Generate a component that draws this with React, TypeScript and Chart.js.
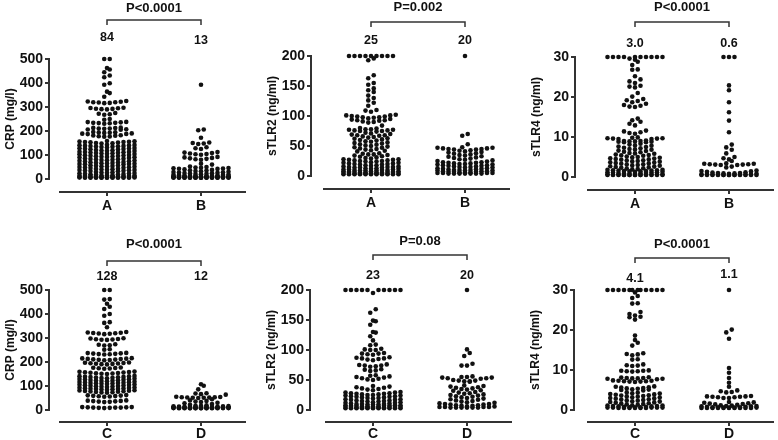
import React, { useEffect, useRef } from 'react';
import { Chart, registerables } from 'chart.js';
Chart.register(...registerables);

Chart.defaults.font.family = '"Liberation Sans", Arial, sans-serif';
Chart.defaults.font.weight = 'bold';
Chart.defaults.font.size = 14;
Chart.defaults.color = '#111';

// ---------- data ----------
const crpA = [
  500, 500, 462, 456, 445, 431, 424, 399, 393, 364, 358, 343,
  325, 323, 322, 320, 320, 319, 317, 316,
  297, 296, 295, 293, 292, 291, 290,
  275, 272, 270, 268,
  250, 247,
  238, 237, 236, 234, 234, 233, 232, 230,
  214, 213, 212, 210, 210, 209, 207, 206, 205,
  196, 195, 194, 193, 192, 190, 189, 188, 187,
  182, 181, 180, 178, 177, 176,
  158, 157, 156, 155, 154, 154, 153, 152, 150, 149, 148,
  143, 142, 141, 140, 139, 138, 137, 136, 135, 134, 133, 131,
  129, 128, 127, 126, 125, 124, 123, 121, 120, 119, 118, 117,
  114, 113, 112, 111, 110, 109, 108, 107, 106, 105, 104, 103,
  100, 99, 98, 97, 96, 95, 94, 93, 92, 91, 90, 88,
  85, 84, 83, 82, 81, 80, 79, 78, 77, 76, 74, 73,
  71, 70, 69, 68, 67, 66, 65, 64, 63, 62, 61, 60,
  57, 56, 55, 54, 53, 52, 51, 50, 49, 48, 47, 46,
  43, 42, 41, 40, 39, 38, 37, 36, 35, 34, 33, 32,
  29, 28, 27, 26, 25, 24, 23, 22, 21, 20, 19, 18,
  16, 15, 15, 14, 14, 13, 13, 12, 12, 11, 11, 10,
  9, 9, 9, 8, 8, 8, 8, 7, 7, 7, 7, 6,
  6, 6, 6, 5, 5, 5, 5, 5, 5, 5, 5, 5,
];
const crpB = [
  393, 206, 203, 172, 152, 150, 148, 146, 132, 128, 125,
  112, 110, 108, 106, 104, 103, 101,
  92, 90, 88, 86, 84, 82, 80,
  64, 60,
  52, 50, 48, 47, 46, 45, 44, 43, 42,
  40, 38, 36, 35, 33, 32, 30, 29, 28, 27, 26, 25,
  24, 23, 22, 21, 20, 19, 18, 17, 16, 15, 14, 13,
  12, 12, 12, 11, 11, 11, 11, 10, 10, 10, 10, 10,
  9, 9, 9, 9, 9, 9, 8, 8, 8, 8, 8, 8,
  7, 7, 7, 7, 7, 7, 6, 6, 6, 6, 6, 6,
  5, 5, 5, 5, 5, 5, 5, 5, 5, 5, 5, 5,
];
const stlr2A = [
  200, 200, 200, 200, 200, 200, 200, 200, 200, 196, 193,
  168, 163, 155, 152, 146, 143, 140, 134, 130, 126, 122, 117, 110, 109, 107,
  102, 101, 101, 100, 99, 99, 98, 98, 97, 96,
  95, 94, 93, 93, 92, 91, 90, 89,
  84, 80,
  79, 78, 78, 77, 77, 76, 76, 75, 75, 74,
  72, 71, 70, 69, 68, 68, 67, 66, 65, 64, 63,
  62, 61, 60, 59, 58, 57, 56, 55, 54, 53, 52,
  51, 50, 49, 48, 47, 46, 45, 44, 43, 42, 41,
  38, 37, 36, 36, 35, 34, 33, 32, 31, 30, 29,
  28, 28, 27, 27, 26, 26, 25, 25, 24, 24, 23,
  22, 22, 21, 21, 20, 20, 19, 19, 18, 18, 17,
  16, 16, 15, 15, 15, 14, 14, 14, 13, 13, 12,
  12, 11, 11, 11, 10, 10, 10, 9, 9, 9, 8,
  8, 8, 7, 7, 7, 7, 6, 6, 6, 6, 5,
  5, 5, 5, 5, 4, 4, 4, 4, 4, 4, 4,
  3, 3, 3, 3, 3, 3, 3, 3, 3, 3, 3,
];
const stlr2B = [
  200, 70, 67, 53,
  48, 47, 47, 46, 46, 45, 45, 44, 44,
  43, 42, 41, 40, 39, 38, 37, 36, 35,
  34, 33, 32, 31, 30, 29, 28, 27, 26,
  25, 24, 23, 23, 22, 22, 21, 21, 20,
  20, 19, 19, 18, 18, 17, 17, 16, 16,
  15, 15, 14, 14, 13, 13, 12, 12, 11,
  11, 10, 10, 10, 9, 9, 9, 8, 8,
  8, 7, 7, 7, 6, 6, 6, 5, 5,
  5, 5, 4, 4, 4, 4, 4, 4, 4,
];
const stlr4A = [
  30, 30, 30, 30, 30, 30, 30, 30, 30, 30, 29.6, 29.3,
  28.8, 28.0, 26.9, 26.8,
  25.2, 24.4, 23.9, 23.5, 22.8, 22.6, 22.4, 21.0,
  20.1, 19.5, 19.2, 19.0, 18.7, 18.3, 18.0, 17.8, 17.6, 17.5,
  14.6, 14.2, 13.8, 13.3, 12.9,
  11.6, 11.4, 11.2, 11.0, 10.8,
  9.9, 9.8, 9.7, 9.7, 9.6, 9.6, 9.5, 9.5,
  9.1, 9.0, 9.0, 8.9, 8.9, 8.8, 8.8, 8.7, 8.7,
  8.3, 8.1, 7.9, 7.8, 7.6, 7.5, 7.3, 7.2, 7.0, 6.9, 6.8,
  6.6, 6.5, 6.3, 6.2, 6.0, 5.9, 5.8, 5.6, 5.5, 5.4, 5.3,
  5.1, 5.0, 4.9, 4.8, 4.7, 4.6, 4.5, 4.4, 4.3, 4.2, 4.1,
  4.0, 3.9, 3.8, 3.7, 3.6, 3.5, 3.4, 3.3, 3.2, 3.1, 3.0,
  2.9, 2.8, 2.7, 2.6, 2.5, 2.4, 2.3, 2.2, 2.1, 2.0, 1.9,
  1.8, 1.8, 1.7, 1.7, 1.6, 1.6, 1.5, 1.5, 1.4, 1.4, 1.3,
  1.3, 1.2, 1.2, 1.1, 1.1, 1.0, 1.0, 0.9, 0.9, 0.8, 0.8,
  0.7, 0.7, 0.7, 0.6, 0.6, 0.6, 0.6, 0.5, 0.5, 0.5, 0.5,
  0.5, 0.5, 0.5, 0.5, 0.5, 0.5, 0.5, 0.5, 0.5, 0.5, 0.5,
];
const stlr4B = [
  30, 30, 30, 22.9, 21.7, 18.7, 16.2, 14.1, 11.2, 8.1, 7.4, 6.8, 5.9,
  5.0, 4.7, 4.4, 4.0,
  3.4, 3.3, 3.3, 3.2, 3.2, 3.1, 3.1, 3.0, 3.0,
  2.6, 2.4,
  1.6, 1.5, 1.4, 1.3, 1.2, 1.1, 1.0, 1.0, 0.9, 0.9, 0.8,
  0.8, 0.7, 0.7, 0.7, 0.6, 0.6, 0.6, 0.6, 0.5, 0.5, 0.5,
  0.5, 0.5, 0.5, 0.5, 0.5, 0.5, 0.5, 0.5, 0.5, 0.5, 0.5,
];
const crpC = [
  500, 500, 462, 460, 443, 430, 421, 400, 393, 366, 363, 345,
  325, 323, 322, 321, 320, 319, 318, 316,
  299, 298, 296, 295, 294, 293, 292,
  274, 272, 270, 269,
  253, 251,
  238, 237, 236, 235, 234, 233, 232, 231,
  216, 215, 214, 213, 212, 211, 210, 209, 208, 207,
  198, 197, 196, 195, 194, 193, 192, 191, 190,
  177, 176, 175, 174, 173, 172,
  160, 159, 158, 157, 156, 155, 154, 153, 152, 151, 150,
  142, 141, 140, 139, 138, 137, 136, 135, 134, 133, 132,
  130, 129, 128, 127, 126, 125, 124, 123, 122, 121, 120,
  118, 117, 116, 115, 114, 113, 112, 111, 110, 109, 108,
  106, 105, 104, 103, 102, 101, 100, 99, 98, 97, 96,
  94, 93, 92, 91, 90, 89, 88, 87, 86, 85, 84,
  82, 81, 80, 79, 78, 77, 76, 75, 74, 73, 72,
  62, 61, 60, 59, 58, 57, 56, 55,
  40, 39, 38, 37, 36, 35, 34, 33,
  12, 12, 11, 11, 10, 10, 10, 9, 9, 8,
];
const crpD = [
  107, 101, 86, 70, 69, 66, 64,
  55, 54, 53, 53, 52, 52, 51, 51, 50,
  45, 40, 38, 35, 33, 30, 28, 25, 22, 20, 18, 17,
  16, 15, 15, 14, 14, 13, 13, 12, 12, 12, 12,
  11, 11, 11, 11, 10, 10, 10, 10, 10, 10, 10,
  9, 9, 9, 9, 9, 9, 9, 8, 8, 8, 8,
  8, 8, 8, 7, 7, 7, 7, 7, 7, 7, 7,
];
const stlr2C = [
  200, 200, 200, 200, 200, 200, 200, 200, 200, 200, 195,
  168, 162, 149, 148, 142, 130, 129, 123, 116, 109, 108,
  102, 101, 100, 100,
  95, 94, 94, 93, 92,
  88, 87, 86, 86, 85, 84, 83,
  76, 75, 74, 74, 73, 72,
  68, 67, 66, 65,
  58, 57, 56, 55, 54, 53, 52, 51, 50,
  40, 39, 38, 37, 36, 35, 34, 33,
  30, 29, 29, 28, 28, 27, 27, 26, 26, 25, 25,
  24, 24, 23, 23, 22, 22, 21, 21, 20, 20, 19,
  18, 18, 17, 17, 16, 16, 15, 15, 14, 14, 13,
  13, 12, 12, 11, 11, 10, 10, 10, 9, 9, 9,
  8, 8, 8, 7, 7, 7, 7, 6, 6, 6, 6,
  5, 5, 5, 5, 5, 4, 4, 4, 4, 4, 4,
  3, 3, 3, 3, 3, 3, 3, 3, 3, 3, 3,
];
const stlr2D = [
  200, 101, 95, 90, 77, 74, 74,
  56, 55, 55, 54, 54, 53, 53, 52,
  50, 49, 49, 48, 48, 47,
  41, 40, 39, 38, 37, 36, 35, 34, 33, 32,
  30, 29, 28, 27, 26, 25, 24, 23, 22, 21,
  20, 19, 18, 17, 16, 15, 14, 13, 12, 11,
  10, 10, 9, 9, 8, 8, 7, 7, 6, 6,
  5, 5, 5, 5, 4, 4, 4, 4, 4, 4,
];
const stlr4C = [
  30, 30, 30, 30, 30, 30, 30, 30, 30, 30, 30, 30, 29.4, 28.5, 28.0,
  26.7, 26.6,
  24.5, 24.0, 23.6, 23.3, 23.2, 22.6,
  18.6, 17.5, 16.8, 16.1,
  14.2, 14.0, 13.9, 13.7,
  12.7, 12.6,
  11.4, 11.2, 11.1, 11.0,
  9.9, 9.8, 9.8, 9.7, 9.7, 9.6,
  8.2, 8.1, 8.0, 8.0, 7.9, 7.9, 7.8, 7.8, 7.7,
  7.4, 7.3, 7.3, 7.2, 7.2, 7.1, 7.1, 7.0,
  5.9, 5.8, 5.7, 5.6, 5.5, 5.4, 5.3, 5.2, 5.1, 5.0, 4.9,
  4.4, 4.3, 4.2, 4.1, 4.0, 3.9, 3.8, 3.7, 3.6, 3.5, 3.4,
  3.3, 3.2, 3.1, 3.0, 2.9, 2.8, 2.7, 2.6, 2.5, 2.4, 2.3,
  2.2, 2.1, 2.0, 1.9, 1.8, 1.7, 1.6, 1.5, 1.4, 1.3, 1.2,
  1.1, 1.1, 1.0, 1.0, 0.9, 0.9, 0.8, 0.8, 0.7, 0.7, 0.7,
  0.6, 0.6, 0.6, 0.6, 0.6, 0.5, 0.5, 0.5, 0.5, 0.5, 0.5,
];
const stlr4D = [
  30, 20.1, 19.4, 17.8, 10.5, 9.3, 8.0, 6.8, 5.8,
  4.9, 4.7, 4.5, 4.4,
  3.5, 3.4, 3.4, 3.3, 3.3, 3.2, 3.2, 3.0, 3.0,
  2.0, 1.9, 1.8, 1.7, 1.6, 1.5, 1.4, 1.3, 1.2, 1.1, 1.0,
  1.0, 0.9, 0.9, 0.8, 0.8, 0.7, 0.7, 0.7, 0.6, 0.6, 0.6,
  0.6, 0.5, 0.5, 0.5, 0.5, 0.5, 0.5, 0.5, 0.5, 0.5, 0.5,
];

const groupsTop = ['A', 'B'];
const groupsBottom = ['C', 'D'];
const pValues = ['P<0.0001', 'P=0.002', 'P<0.0001', 'P<0.0001', 'P=0.08', 'P<0.0001'];
const medianLabels = [['84', '13'], ['25', '20'], ['3.0', '0.6'], ['128', '12'], ['23', '20'], ['4.1', '1.1']];
const yTitles = ['CRP (mg/l)', 'sTLR2 (ng/ml)', 'sTLR4 (ng/ml)', 'CRP (mg/l)', 'sTLR2 (ng/ml)', 'sTLR4 (ng/ml)'];
const yMaxes = [500, 200, 30, 500, 200, 30];
const ySteps = [100, 50, 10, 100, 50, 10];

// ---------- layout ----------
const GAP = 94;          // px between the two categories
const DOT_STEP = 5.5;    // px between dots in a row
const MAX_COLS = 11;

type Cfg = {
  left: number; top: number; aOff: number; cats: string[]; groups: number[][];
  idx: number; bin: number; bracketY: number; pY: number; medY: number[];
  lineGap: number; labelPad: number;
};

const panels: Cfg[] = [
  { left: 0, top: -3, aOff: 58, cats: groupsTop, groups: [crpA, crpB], idx: 0, bin: 16, bracketY: -39, pY: -51, medY: [-21, -18], lineGap: 13, labelPad: 19 },
  { left: 262, top: -6, aOff: 60, cats: groupsTop, groups: [stlr2A, stlr2B], idx: 1, bin: 6.5, bracketY: -34, pY: -49, medY: [-15, -15], lineGap: 13, labelPad: 19 },
  { left: 526, top: -5, aOff: 60, cats: groupsTop, groups: [stlr4A, stlr4B], idx: 2, bin: 0.95, bracketY: -35, pY: -50, medY: [-13, -13], lineGap: 13, labelPad: 19 },
  { left: 0, top: 228, aOff: 58, cats: groupsBottom, groups: [crpC, crpD], idx: 3, bin: 16, bracketY: -29, pY: -46, medY: [-13, -13], lineGap: 12, labelPad: 16 },
  { left: 261, top: 228, aOff: 63, cats: groupsBottom, groups: [stlr2C, stlr2D], idx: 4, bin: 6.5, bracketY: -35, pY: -49, medY: [-14, -14], lineGap: 12, labelPad: 16 },
  { left: 525, top: 228, aOff: 61, cats: groupsBottom, groups: [stlr4C, stlr4D], idx: 5, bin: 0.95, bracketY: -32, pY: -46, medY: [-11, -15], lineGap: 12, labelPad: 16 },
];

function swarm(values: number[], bin: number) {
  const sorted = [...values].sort((a, b) => a - b);
  const out: { dx: number; y: number }[] = [];
  const step = DOT_STEP / GAP;
  let i = 0;
  while (i < sorted.length) {
    const start = sorted[i];
    const row: number[] = [];
    while (i < sorted.length && row.length < MAX_COLS && sorted[i] - start < bin) {
      row.push(sorted[i]);
      i++;
    }
    const n = row.length;
    const slots: number[] = [];
    for (let k = 0; k < n; k++) slots.push(k - (n - 1) / 2);
    slots.sort((a, b) => Math.abs(a) - Math.abs(b) || a - b);
    row.forEach((v, k) => out.push({ dx: slots[k] * step, y: v }));
  }
  return out;
}

function makeDeco(cfg: Cfg) {
  return {
    id: 'deco' + cfg.idx,
    afterDraw(chart: any) {
      const { ctx, chartArea, scales } = chart;
      const xs = scales.x;
      const xa = xs.getPixelForValue(0);
      const xb = xs.getPixelForValue(1);
      ctx.save();
      ctx.strokeStyle = '#333';
      ctx.lineWidth = 2;
      const yLine = chartArea.bottom + cfg.lineGap;
      ctx.beginPath();
      ctx.moveTo(xa - 48, yLine);
      ctx.lineTo(chartArea.right, yLine);
      ctx.moveTo(xa, yLine);
      ctx.lineTo(xa, yLine + 4);
      ctx.moveTo(xb, yLine);
      ctx.lineTo(xb, yLine + 4);
      ctx.stroke();
      const yb = chartArea.top + cfg.bracketY;
      ctx.lineWidth = 1.5;
      ctx.beginPath();
      ctx.moveTo(xa, yb + 5);
      ctx.lineTo(xa, yb);
      ctx.lineTo(xb, yb);
      ctx.lineTo(xb, yb + 5);
      ctx.stroke();
      ctx.fillStyle = '#111';
      ctx.textAlign = 'center';
      ctx.textBaseline = 'middle';
      ctx.font = 'bold 13px "Liberation Sans", Arial, sans-serif';
      ctx.fillText(pValues[cfg.idx], (xa + xb) / 2, chartArea.top + cfg.pY);
      ctx.font = 'bold 12.5px "Liberation Sans", Arial, sans-serif';
      ctx.fillText(medianLabels[cfg.idx][0], xa, chartArea.top + cfg.medY[0]);
      ctx.fillText(medianLabels[cfg.idx][1], xb, chartArea.top + cfg.medY[1]);
      ctx.restore();
    },
  };
}

function PanelChart({ cfg }: { cfg: Cfg }) {
  const ref = useRef<HTMLCanvasElement>(null);
  const W = 192 + cfg.aOff;
  const H = 220;
  useEffect(() => {
    const xMin = -cfg.aOff / GAP;
    const xMax = 1 + 45 / GAP;
    const datasets = cfg.groups.map((vals, gi) => ({
      data: swarm(vals, cfg.bin).map((p) => ({ x: gi + p.dx, y: p.y })),
      pointRadius: 2.3,
      pointHoverRadius: 2.3,
      pointBackgroundColor: '#111',
      pointBorderWidth: 0,
      clip: false as any,
    }));
    const chart = new Chart(ref.current as HTMLCanvasElement, {
      type: 'scatter',
      data: { datasets },
      plugins: [makeDeco(cfg)],
      options: {
        animation: false,
        responsive: false,
        maintainAspectRatio: false,
        devicePixelRatio: 1,
        events: [],
        layout: { padding: { left: 0, top: 62, right: 4, bottom: 0 } },
        plugins: { legend: { display: false }, tooltip: { enabled: false } },
        scales: {
          x: {
            type: 'linear',
            min: xMin,
            max: xMax,
            afterBuildTicks: (s: any) => {
              s.ticks = [{ value: 0 }, { value: 1 }];
            },
            afterFit: (s: any) => {
              s.height = 38;
            },
            ticks: {
              autoSkip: false,
              maxRotation: 0,
              padding: cfg.labelPad,
              font: { size: 14, weight: 'bold' },
              color: '#111',
              callback: (v: any) => (v === 0 ? cfg.cats[0] : v === 1 ? cfg.cats[1] : ''),
            },
            grid: { display: false, drawTicks: false },
            border: { display: false },
          },
          y: {
            min: 0,
            max: yMaxes[cfg.idx],
            afterFit: (s: any) => {
              s.width = 49;
            },
            ticks: { stepSize: ySteps[cfg.idx], padding: 2, font: { size: 14, weight: 'bold' }, color: '#111' },
            grid: { display: true, drawOnChartArea: false, drawTicks: true, tickLength: 4, color: '#333', lineWidth: 2 },
            border: { display: true, color: '#333', width: 2 },
            title: {
              display: true,
              text: yTitles[cfg.idx],
              font: { size: 12, weight: 'bold' },
              color: '#111',
              padding: { top: 3, bottom: 0 },
            },
          },
        },
      } as any,
    });
    return () => chart.destroy();
  }, []);
  return (
    <canvas
      ref={ref}
      width={W}
      height={H}
      style={{ position: 'absolute', left: cfg.left, top: cfg.top, width: W, height: H }}
    />
  );
}

export default function App() {
  return (
    <div style={{ position: 'absolute', left: 0, top: 0, width: 778, height: 440, overflow: 'hidden', background: '#fff' }}>
      {panels.map((p) => (
        <PanelChart key={p.idx} cfg={p} />
      ))}
    </div>
  );
}
